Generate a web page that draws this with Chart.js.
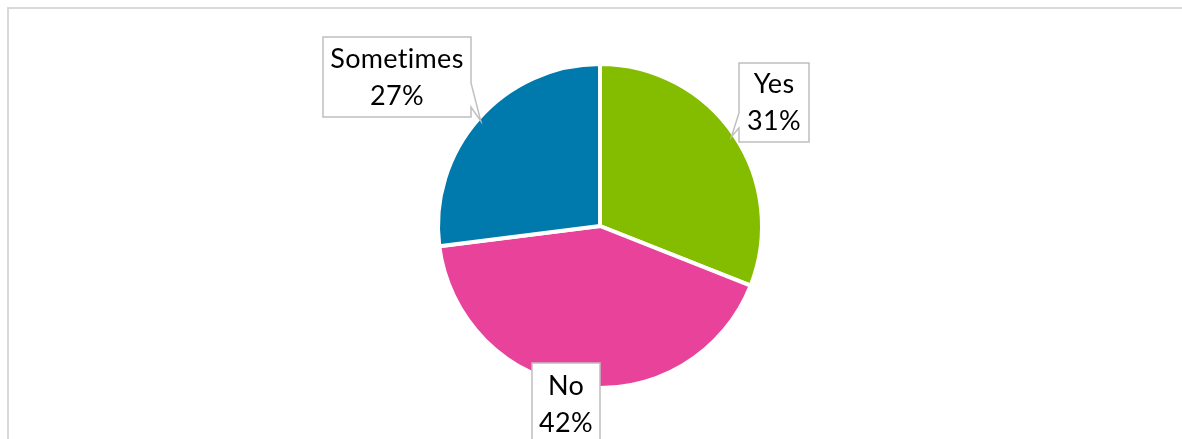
<!DOCTYPE html>
<html>
<head>
<meta charset="utf-8">
<script src="https://cdn.jsdelivr.net/npm/chart.js@4/dist/chart.umd.min.js"></script>
<style>
  html, body { margin: 0; padding: 0; background: #fff; }
  #wrap { width: 1182px; height: 439px; position: relative; }
</style>
</head>
<body>
<div id="wrap"><canvas id="answerChart"></canvas></div>
<script>
const answers = ['Yes', 'No', 'Sometimes'];
const shares = [31, 42, 27];
const sliceColors = ['#84bd00', '#e8429a', '#007aad'];

// callout boxes: x, y, w, h, which side the pointer leaves from and where along it
const calloutBoxes = [
    { x: 739, y: 63, w: 70, h: 79, side: 'left', a: 50, b: 65 },
    { x: 532, y: 363, w: 68, h: 82, side: 'none' },
    { x: 323, y: 37, w: 148, h: 80, side: 'right', a: 46, b: 70 }
];

const framePlugin = {
    id: 'frame',
    beforeDraw(chart) {
        const ctx = chart.ctx;
        ctx.save();
        ctx.fillStyle = '#fff';
        ctx.fillRect(0, 0, chart.width, chart.height);
        ctx.strokeStyle = '#d9d9d9';
        ctx.lineWidth = 2;
        ctx.beginPath();
        ctx.moveTo(8, chart.height);
        ctx.lineTo(8, 8);
        ctx.lineTo(chart.width, 8);
        ctx.stroke();
        ctx.restore();
    }
};

const calloutPlugin = {
    id: 'callouts',
    afterDatasetsDraw(chart) {
        const ctx = chart.ctx;
        const meta = chart.getDatasetMeta(0);
        const values = chart.data.datasets[0].data;
        ctx.save();
        meta.data.forEach((arc, i) => {
            const b = calloutBoxes[i];
            const p = arc.getProps(['x', 'y', 'startAngle', 'endAngle', 'outerRadius'], true);
            const mid = (p.startAngle + p.endAngle) / 2;
            const tip = {
                x: p.x + Math.cos(mid) * (p.outerRadius - 3),
                y: p.y + Math.sin(mid) * (p.outerRadius - 3)
            };

            ctx.beginPath();
            ctx.moveTo(b.x, b.y);
            ctx.lineTo(b.x + b.w, b.y);
            if (b.side === 'right') {
                ctx.lineTo(b.x + b.w, b.y + b.a);
                ctx.lineTo(tip.x, tip.y);
                ctx.lineTo(b.x + b.w, b.y + b.b);
            }
            ctx.lineTo(b.x + b.w, b.y + b.h);
            ctx.lineTo(b.x, b.y + b.h);
            if (b.side === 'left') {
                ctx.lineTo(b.x, b.y + b.b);
                ctx.lineTo(tip.x, tip.y);
                ctx.lineTo(b.x, b.y + b.a);
            }
            ctx.closePath();
            ctx.fillStyle = '#fff';
            ctx.fill();
            ctx.strokeStyle = '#bfbfbf';
            ctx.lineWidth = 1.5;
            ctx.stroke();

            ctx.fillStyle = '#000';
            ctx.font = '27px Lato, "Open Sans", sans-serif';
            ctx.letterSpacing = '0.3px';
            ctx.textAlign = 'center';
            ctx.textBaseline = 'middle';
            const cx = b.x + b.w / 2;
            const cy = b.y + b.h / 2;
            ctx.fillText(chart.data.labels[i], cx, cy - 18);
            ctx.fillText(values[i] + '%', cx, cy + 19);
        });
        ctx.restore();
    }
};

const ctx = document.getElementById('answerChart').getContext('2d');
new Chart(ctx, {
    type: 'pie',
    data: {
        labels: answers,
        datasets: [{
            data: shares,
            backgroundColor: sliceColors,
            borderColor: '#fff',
            borderWidth: 4,
            radius: 162
        }]
    },
    options: {
        responsive: true,
        maintainAspectRatio: false,
        animation: false,
        layout: { padding: { left: 400, right: 382, top: 26, bottom: 13 } },
        plugins: {
            legend: { display: false },
            tooltip: { enabled: false }
        }
    },
    plugins: [framePlugin, calloutPlugin]
});
</script>
</body>
</html>
